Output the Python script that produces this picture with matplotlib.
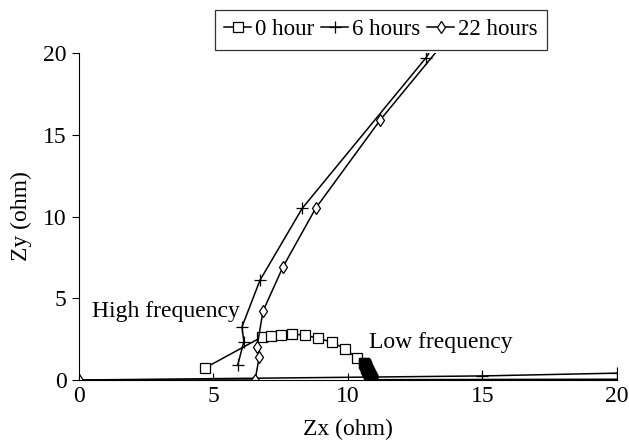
import matplotlib
matplotlib.use("Agg")
import matplotlib.pyplot as plt
import numpy as np

nan = np.nan

# Nyquist data, Zx / Zy in ohm
zx_0h = [4.68, 6.80, 7.14, 7.51, 7.92, 8.40, 8.88, 9.41, 9.89, 10.33,
         10.60, 10.62, 10.64, 10.66, 10.68, 10.70, 10.72, 10.74, 10.76,
         10.78, 10.80, 10.82, 10.83, 10.84, 10.86, 10.87, 10.88, 10.89,
         10.90, 21.0]
zy_0h = [0.73, 2.63, 2.69, 2.75, 2.81, 2.75, 2.55, 2.32, 1.90, 1.35,
         1.05, 0.98, 0.90, 0.83, 0.76, 0.69, 0.62, 0.55, 0.49,
         0.43, 0.37, 0.32, 0.27, 0.22, 0.17, 0.13, 0.09, 0.05,
         0.02, 0.05]

zx_6h = [20.0, 15.0, 0.0, nan, 5.90, 6.13, 6.06, 6.73, 8.30, 12.90, 13.40]
zy_6h = [0.42, 0.25, 0.0, nan, 0.90, 2.35, 3.25, 6.10, 10.50, 19.70, 21.00]

zx_22h = [0.0, 6.55, 6.70, 6.62, 6.84, 7.58, 8.80, 11.20, 14.00]
zy_22h = [0.0, 0.00, 1.40, 2.00, 4.20, 6.90, 10.50, 15.90, 21.50]

labels = ["0 hour", "6 hours", "22 hours"]

plt.rcParams.update({
    "font.family": "Liberation Serif",
    "font.size": 17,
})

fig = plt.figure(figsize=(6.29, 4.41), dpi=100)
ax = fig.add_axes([0.1256, 0.1383, 0.855, 0.7415])

common = dict(color="black", lw=1.1, markerfacecolor="white",
              markeredgecolor="black", markeredgewidth=0.9)
l0, = ax.plot(zx_0h, zy_0h, marker="s", markersize=7, label=labels[0], **common)
# low-frequency points pile up on top of each other
ax.plot(zx_0h[10:29], zy_0h[10:29], ls="none", marker="s", markersize=7,
        color="black")
l1, = ax.plot(zx_6h, zy_6h, marker="+", markersize=8, label=labels[1], **common)
l2, = ax.plot(zx_22h, zy_22h, marker="d", markersize=6, label=labels[2], **common)

ax.set_xlim(0, 20)
ax.set_ylim(0, 20)
ax.set_xticks([0, 5, 10, 15, 20])
ax.set_yticks([0, 5, 10, 15, 20])
ax.spines["top"].set_visible(False)
ax.spines["right"].set_visible(False)
ax.tick_params(axis="x", direction="in", length=5, pad=4)
ax.tick_params(axis="y", direction="out", length=5, pad=4)
ax.set_xlabel("Zx (ohm)", labelpad=9)
ax.set_ylabel("Zy (ohm)", labelpad=8)

ax.text(0.5, 4.2, "High frequency", ha="left", va="center")
ax.text(10.8, 2.3, "Low frequency", ha="left", va="center")

leg = fig.legend(handles=[l0, l1, l2], loc="upper center",
                 bbox_to_anchor=(0.606, 0.977), ncol=3, frameon=True,
                 fancybox=False, edgecolor="black", handlelength=1.15,
                 handletextpad=0.2, columnspacing=0.3, borderpad=0.4,
                 borderaxespad=0, fontsize=16.5)
leg.get_frame().set_linewidth(0.9)

fig.savefig("out.png", dpi=100)
